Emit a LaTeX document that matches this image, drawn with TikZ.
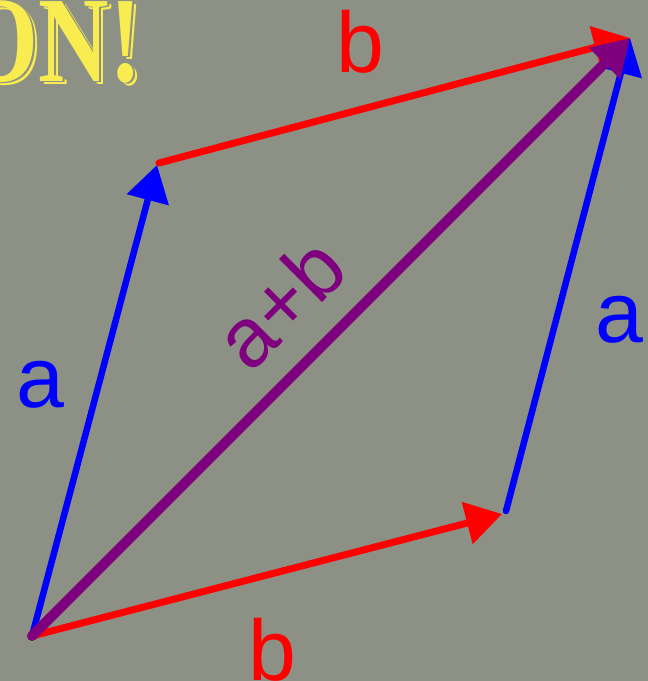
\documentclass[tikz,border=0pt]{standalone}
\usepackage{fontspec}
\setmainfont{Liberation Sans}
\newfontfamily\titlefont{Liberation Serif}
\usetikzlibrary{arrows.meta}
\definecolor{bg}{HTML}{8D9185}
\definecolor{vred}{HTML}{FF0000}
\definecolor{vblue}{HTML}{0000FF}
\definecolor{vpurple}{HTML}{7F007F}
\definecolor{ttl}{HTML}{F8EC50}
\tikzset{
  vec/.style={line cap=round, -{Triangle[length=36pt,width=42pt]}},
  lbl/.style={inner sep=0pt, anchor=base, font=\fontsize{86}{86}\selectfont},
  ttlstyle/.style={inner sep=0pt, anchor=base east, font=\titlefont\bfseries\fontsize{122}{122}\selectfont, xscale=0.8}
}
\begin{document}
\begin{tikzpicture}[x=1pt,y=-1pt]
\fill[bg] (0,0) rectangle (648,681);
\useasboundingbox (0,0) rectangle (648,681);
% title fragment
\node[ttlstyle, text=ttl] (t1) at (146,84) {ON!};
\node[ttlstyle, text=bg] (t2) at (144,82.5) {ON!};
\node[ttlstyle, text=ttl] (t3) at (142,81) {ON!};
% points
\coordinate (O) at (32,636);
\coordinate (A) at (157,165);
\coordinate (A2) at (159,163);
\coordinate (S) at (630,38);
\coordinate (B) at (502,514);
\coordinate (B2) at (506,511);
% vectors
\draw[vec, vblue, line width=6.5pt] (O) -- (A);
\draw[vec, vred, line width=7pt] (O) -- (B);
\draw[vec, vred, line width=7pt] (A2) -- (S);
\draw[vec, vblue, line width=6.5pt] (B2) -- (S);
\draw[vec, vpurple, line width=10pt] (O) -- (S);
% labels
\node[lbl, text=vred] (lb1) at (360,72) {b};
\node[lbl, text=vred] (lb2) at (272,680) {b};
\node[lbl, text=vblue] (la1) at (40,407) {a};
\node[lbl, text=vblue] (la2) at (619,342) {a};
\node[inner sep=0pt, rotate=45, text=vpurple, font=\fontsize{84}{84}\selectfont] (lab) at (280,303) {a+b};
\end{tikzpicture}
\end{document}
